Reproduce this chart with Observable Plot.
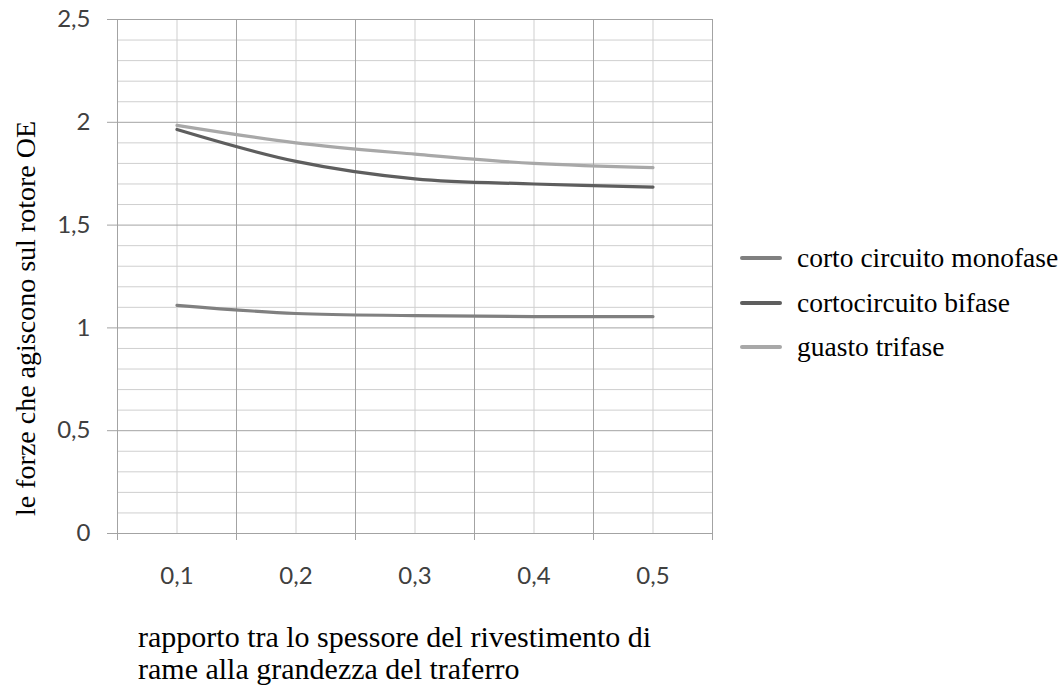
<!DOCTYPE html>
<html>
<head>
<meta charset="utf-8">
<script src="https://cdn.jsdelivr.net/npm/d3@7"></script>
<script src="https://cdn.jsdelivr.net/npm/@observablehq/plot@0.6"></script>
<style>
  html, body { margin: 0; padding: 0; background: #fff; }
  #wrap { position: relative; width: 1059px; height: 692px; overflow: hidden; }
  #chart { position: absolute; left: 0; top: 0; }
  #legend { position: absolute; left: 740px; top: 236px; font-family: "Liberation Serif", "Times New Roman", serif; font-size: 27.5px; color: #000; }
  .row { display: flex; align-items: center; height: 44.5px; }
  .sw { width: 42px; height: 4px; border-radius: 2px; margin-right: 15px; }
  #xtitle { position: absolute; left: 138px; top: 621px; font-family: "Liberation Serif", "Times New Roman", serif; font-size: 30px; line-height: 32px; color: #000; white-space: nowrap; }
</style>
</head>
<body>
<div id="wrap">
  <div id="chart"></div>
  <div id="legend"></div>
  <div id="xtitle"></div>
</div>
<script>
// ---- data ----
const xValues = [0.1, 0.2, 0.3, 0.4, 0.5];
const monofase = [1.11, 1.07, 1.06, 1.055, 1.055];
const bifase = [1.965, 1.81, 1.725, 1.70, 1.685];
const trifase = [1.985, 1.90, 1.845, 1.80, 1.78];

const seriesNames = ["corto circuito monofase", "cortocircuito bifase", "guasto trifase"];
const seriesColors = ["#808080", "#5e5e5e", "#a8a8a8"];

const xTickLabels = [0.1, 0.2, 0.3, 0.4, 0.5];
const xBoundaries = [0.05, 0.15, 0.25, 0.35, 0.45, 0.55];
const yMajorTicks = [0, 0.5, 1, 1.5, 2, 2.5];
const yMinorTicks = [0.1, 0.2, 0.3, 0.4, 0.6, 0.7, 0.8, 0.9, 1.1, 1.2, 1.3, 1.4, 1.6, 1.7, 1.8, 1.9, 2.1, 2.2, 2.3, 2.4];

const yTitle = "le forze che agiscono sul rotore OE";
const xTitleLines = ["rapporto tra lo spessore del rivestimento di", "rame alla grandezza del traferro"];

// ---- build table ----
const allSeries = [monofase, bifase, trifase];
const rows = [];
allSeries.forEach((vals, si) => {
  vals.forEach((v, i) => rows.push({ x: xValues[i], y: v, s: seriesNames[si] }));
});

const comma = d => String(d).replace(".", ",");
const tickFont = "Lato, 'Open Sans', sans-serif";

const plot = Plot.plot({
  width: 740,
  height: 600,
  marginLeft: 117,
  marginRight: 28,
  marginTop: 19,
  marginBottom: 67,
  style: { fontFamily: tickFont, fontSize: "24px", background: "#fff", overflow: "visible" },
  x: { domain: [0.05, 0.55] },
  y: { domain: [0, 2.5] },
  color: { domain: seriesNames, range: seriesColors },
  marks: [
    Plot.gridY(yMinorTicks, { stroke: "#cfcfcf", strokeOpacity: 1 }),
    Plot.gridX(xTickLabels, { stroke: "#cfcfcf", strokeOpacity: 1 }),
    Plot.gridY(yMajorTicks, { stroke: "#a3a3a3", strokeOpacity: 1 }),
    Plot.gridX(xBoundaries, { stroke: "#a3a3a3", strokeOpacity: 1 }),
    Plot.axisX({ ticks: xBoundaries, tickSize: 7, tickFormat: () => "", stroke: "#a3a3a3", label: null }),
    Plot.axisX({ ticks: xTickLabels, tickSize: 0, tickPadding: 33, tickFormat: comma, fill: "#404040", fontSize: 24, fontFamily: tickFont, label: null }),
    Plot.axisY({ ticks: yMajorTicks, tickSize: 10, tickPadding: 17, tickFormat: comma, stroke: "#a3a3a3", fill: "#404040", fontSize: 24, fontFamily: tickFont, label: null }),
    Plot.ruleX([0.05], { stroke: "#a3a3a3" }),
    Plot.ruleY([0], { stroke: "#a3a3a3" }),
    Plot.line(rows, { x: "x", y: "y", z: "s", stroke: "s", strokeWidth: 3.2, curve: "catmull-rom", strokeLinecap: "round" }),
    Plot.text([yTitle], { frameAnchor: "left", rotate: -90, dx: -91, dy: 42, fontSize: 28, fontFamily: "'Liberation Serif', 'Times New Roman', serif", fill: "#000", textAnchor: "middle" })
  ]
});
document.getElementById("chart").appendChild(plot);

// legend
const legend = document.getElementById("legend");
seriesNames.forEach((name, i) => {
  const r = document.createElement("div");
  r.className = "row";
  const sw = document.createElement("div");
  sw.className = "sw";
  sw.style.background = seriesColors[i];
  const t = document.createElement("span");
  t.textContent = name;
  r.appendChild(sw); r.appendChild(t);
  legend.appendChild(r);
});

// x title
const xt = document.getElementById("xtitle");
xTitleLines.forEach(l => { const d = document.createElement("div"); d.textContent = l; xt.appendChild(d); });
</script>
</body>
</html>
